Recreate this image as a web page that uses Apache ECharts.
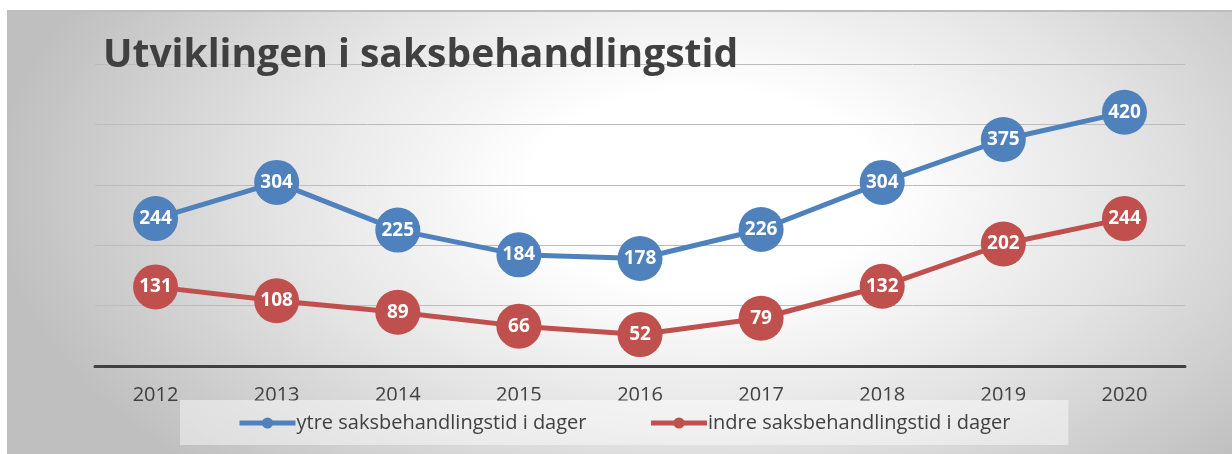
<!DOCTYPE html>
<html>
<head>
<meta charset="utf-8">
<script src="https://cdn.jsdelivr.net/npm/echarts@6/dist/echarts.min.js"></script>
<style>
  html, body { margin: 0; padding: 0; background: #fff; }
  #wrap { position: relative; width: 1232px; height: 454px; overflow: hidden; }
  #frame {
    position: absolute; left: 7px; top: 10px; width: 1225px; height: 444px;
    border-top: 2px solid #bdbdbd;
    background: radial-gradient(ellipse 58% 90% at 57% 40%, #ffffff 25%, #e4e4e4 60%, #bfbfbf 100%);
  }
  #chart { position: absolute; left: 0; top: 0; width: 1232px; height: 454px; }
</style>
</head>
<body>
<div id="wrap">
  <div id="frame"></div>
  <div id="chart"></div>
</div>
<script>
// data
const years = ['2012', '2013', '2014', '2015', '2016', '2017', '2018', '2019', '2020']
const ytre = [244, 304, 225, 184, 178, 226, 304, 375, 420]
const indre = [131, 108, 89, 66, 52, 79, 132, 202, 244]
const seriesNames = ['ytre saksbehandlingstid i dager', 'indre saksbehandlingstid i dager']
const colors = ['#4f81bd', '#c0504d']

const fontFam = '"Open Sans", "Noto Sans", sans-serif'

function makeSerie(name, data, color) {
  return {
    name: name,
    type: 'line',
    data: data,
    symbol: 'circle',
    symbolSize: 45,
    z: 3,
    lineStyle: { color: color, width: 5 },
    itemStyle: { color: color },
    label: {
      show: true,
      position: 'inside',
      color: '#fff',
      fontWeight: 'bold',
      fontSize: 19,
      fontFamily: fontFam
    },
    emphasis: { disabled: true }
  }
}

const chart = echarts.init(document.getElementById('chart'))
chart.setOption({
  animation: false,
  backgroundColor: 'transparent',
  title: {
    text: 'Utviklingen i saksbehandlingstid',
    left: 98,
    top: 31,
    textStyle: {
      color: '#404040',
      fontSize: 39,
      fontWeight: 'bold',
      fontFamily: fontFam
    }
  },
  legend: {
    left: 180,
    top: 400,
    padding: [13, 58, 12, 57],
    itemGap: 62,
    itemWidth: 56,
    itemHeight: 14,
    backgroundColor: 'rgba(255,255,255,0.45)',
    data: seriesNames,
    lineStyle: { width: 5 },
    textStyle: {
      color: '#404040',
      fontSize: 20,
      fontFamily: fontFam,
      padding: [0, 0, 0, -4]
    }
  },
  grid: {
    left: 95,
    right: 47,
    top: 64,
    bottom: 88,
    containLabel: false
  },
  xAxis: {
    type: 'category',
    data: years,
    boundaryGap: true,
    axisLine: { lineStyle: { color: '#404040', width: 3 } },
    axisTick: { show: false },
    axisLabel: {
      color: '#404040',
      fontSize: 20,
      fontFamily: fontFam,
      margin: 19
    }
  },
  yAxis: {
    type: 'value',
    min: 0,
    max: 500,
    interval: 100,
    axisLine: { show: false },
    axisTick: { show: false },
    axisLabel: { show: false },
    splitLine: { lineStyle: { color: '#bcbcbc', width: 1 } }
  },
  series: [
    makeSerie(seriesNames[0], ytre, colors[0]),
    makeSerie(seriesNames[1], indre, colors[1])
  ]
})
</script>
</body>
</html>
